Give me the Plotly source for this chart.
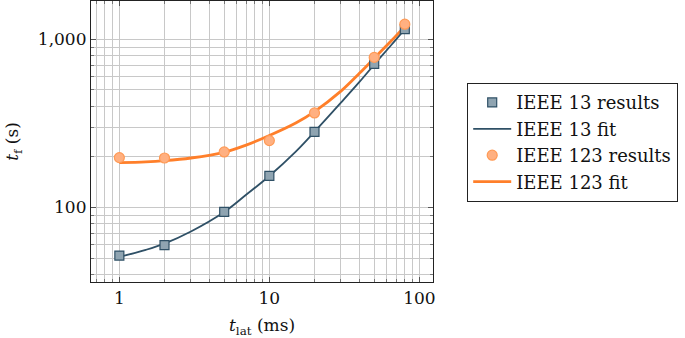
import plotly.graph_objects as go

# Data
latency_ms = [1, 2, 5, 10, 20, 50, 80]
ieee13_results = [51.8, 59.7, 94.2, 154, 282, 715, 1150]
ieee123_results = [198, 197, 214, 250, 365, 781, 1230]

fit_x = [1, 1.5, 2, 3, 5, 7, 10, 15, 20, 30, 40, 50, 65, 80]
ieee13_fit = [50.8, 56, 61, 72, 94, 119, 154, 215, 282, 420, 560, 708, 925, 1150]
ieee123_fit = [185, 187, 190, 197, 213, 235, 268, 318, 372, 492, 630, 772, 980, 1195]

x_tickvals = [1, 10, 100]
x_ticktext = ["1", "10", "100"]
y_tickvals = [100, 1000]
y_ticktext = ["100", "1,000"]

BLUE_LINE = "#2f5066"
BLUE_FILL = "#8fa4b1"
ORANGE_LINE = "#ff7f2a"
ORANGE_FILL = "#ffb081"
FONT = "DejaVu Serif, Liberation Serif, serif"
TXT = "#111111"

fig = go.Figure()
fig.add_trace(go.Scatter(
    x=fit_x, y=ieee13_fit, mode="lines", name="IEEE 13 fit", legendrank=2,
    line=dict(color=BLUE_LINE, width=1.8, shape="spline"),
))
fig.add_trace(go.Scatter(
    x=fit_x, y=ieee123_fit, mode="lines", name="IEEE 123 fit", legendrank=4,
    line=dict(color=ORANGE_LINE, width=2.8, shape="spline"),
))
fig.add_trace(go.Scatter(
    x=latency_ms, y=ieee13_results, mode="markers", name="IEEE 13 results", legendrank=1,
    marker=dict(symbol="square", size=9, color=BLUE_FILL,
                line=dict(color=BLUE_LINE, width=1.2)),
))
fig.add_trace(go.Scatter(
    x=latency_ms, y=ieee123_results, mode="markers", name="IEEE 123 results", legendrank=3,
    marker=dict(symbol="circle", size=10, color=ORANGE_FILL,
                line=dict(color="#ff9a55", width=1.2)),
))

grid = "#c8c8c8"
axis_common = dict(
    type="log", showline=True, linecolor="#222222", linewidth=1.2, mirror="ticks",
    showgrid=True, gridcolor=grid, gridwidth=1,
    ticks="inside", ticklen=5, tickcolor="#555555",
    zeroline=False, automargin=False,
    minor=dict(dtick="D1", showgrid=True, gridcolor=grid, gridwidth=1,
               ticks="inside", ticklen=3, tickcolor="#777777"),
    tickfont=dict(family=FONT, size=17, color=TXT),
)

fig.update_xaxes(
    **axis_common,
    range=[-0.189, 2.091],
    tickvals=x_tickvals, ticktext=x_ticktext,
    title=dict(text="<i>t</i><sub>lat</sub> (ms)",
               font=dict(family=FONT, size=17, color=TXT), standoff=18),
)
fig.update_yaxes(
    **axis_common,
    range=[1.557, 3.228],
    tickvals=y_tickvals, ticktext=y_ticktext,
    title=dict(text="<i>t</i><sub>f</sub> (s)",
               font=dict(family=FONT, size=17, color=TXT), standoff=14),
)

fig.update_layout(
    width=685, height=338,
    margin=dict(l=91, r=252, t=1, b=56, autoexpand=False),
    paper_bgcolor="white", plot_bgcolor="white",
    font=dict(family=FONT, color=TXT),
    showlegend=True,
    legend=dict(
        xref="container", x=467 / 685, xanchor="left",
        yref="container", y=1 - 83 / 338, yanchor="top",
        bgcolor="white", bordercolor="#222222", borderwidth=1.2,
        font=dict(family=FONT, size=18, color=TXT),
        itemwidth=38,
    ),
)

fig.write_html(
    "out.html",
    config={"displayModeBar": False},
    post_script="document.body.style.margin='0';document.body.style.overflow='hidden';",
)
